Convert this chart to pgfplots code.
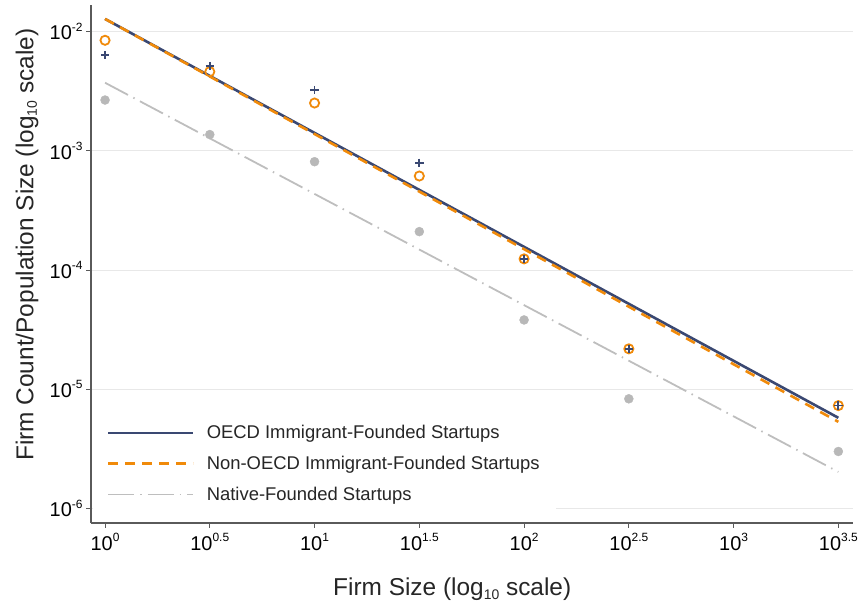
\documentclass[border=0pt]{standalone}
\usepackage{pgfplots}
\pgfplotsset{compat=1.18}
\usepackage{fontspec}
\setmainfont{Liberation Sans}
\definecolor{navyc}{HTML}{3A4872}
\definecolor{orangec}{HTML}{F08A0A}
\definecolor{grayline}{HTML}{BEBEBE}
\definecolor{graydot}{HTML}{B8B8B8}
\definecolor{gridc}{HTML}{E8E8E8}
\definecolor{spine}{HTML}{5A5A5A}
\newcommand{\tp}[1]{10\raisebox{0.42em}{\fontsize{12}{12}\selectfont #1}}
\newcommand{\sbs}[1]{\raisebox{-0.15em}{\fontsize{14}{14}\selectfont #1}}
\begin{document}
\begin{tikzpicture}
\begin{axis}[
  scale only axis, width=762bp, height=518bp,
  xmode=log, ymode=log,
  xmin=0.857, xmax=3715,
  ymin=7.53e-7, ymax=0.01675,
  axis x line*=bottom, axis y line*=left,
  axis line style={spine, line width=1.2bp},
  tick align=outside, major tick length=5bp,
  tick style={spine, line width=1bp},
  minor tick style={draw=none},
  ytick={1e-6,1e-5,1e-4,1e-3,1e-2},
  yticklabels={\tp{-6},\tp{-5},\tp{-4},\tp{-3},\tp{-2}},
  xtick={1,3.16228,10,31.6228,100,316.228,1000,3162.28},
  xticklabels={\tp{0},\tp{0.5},\tp{1},\tp{1.5},\tp{2},\tp{2.5},\tp{3},\tp{3.5}},
  ymajorgrids, grid style={gridc, line width=1bp},
  tick label style={font=\fontsize{20}{24}\selectfont, text=black},
  xticklabel style={yshift=-2bp},
  label style={font=\fontsize{24.5}{29}\selectfont, text=black!85},
  xlabel={Firm Size (log\sbs{10} scale)},
  ylabel={Firm Count/Population Size (log\sbs{10} scale)},
  xlabel style={at={(axis description cs:0.474,-0.1275)}, anchor=center},
  ylabel style={at={(axis description cs:-0.084,0.537)}, anchor=center},
  legend cell align=left,
  legend image code/.code={\draw[#1] (0bp,0bp) -- (85bp,0bp);},
  legend style={at={(axis description cs:0.0026,0.208)}, anchor=north west,
    draw=none, fill=white, font=\fontsize{18.5}{22}\selectfont, text=black!85,
    row sep=12bp, inner xsep=14bp, inner ysep=8bp,
    /tikz/every odd column/.append style={column sep=10bp}},
]
\coordinate (O) at (rel axis cs:0,0);
\addplot[navyc, line width=2.6bp, no marks] coordinates {(1,0.0128) (3162.28,5.75e-6)};
\addlegendentry{OECD Immigrant-Founded Startups}
\addplot[orangec, line width=2.6bp, dash pattern=on 10bp off 7bp, no marks] coordinates {(1,0.0128) (3162.28,5.32e-6)};
\addlegendentry{Non-OECD Immigrant-Founded Startups}
\addplot[grayline, line width=1.8bp, dash pattern=on 26bp off 6bp on 1.5bp off 6bp, no marks] coordinates {(1,3.73e-3) (3162.28,2.02e-6)};
\addlegendentry{Native-Founded Startups}
% scatter points
\addplot[forget plot, only marks, mark=*, mark size=4.5bp, graydot, mark options={draw=none, fill=graydot}] coordinates {
(1,2.67e-3) (3.16228,1.37e-3) (10,8.11e-4) (31.6228,2.10e-4) (100,3.81e-5) (316.228,8.30e-6) (3162.28,3.0e-6)};
\addplot[forget plot, only marks, mark=o, mark size=4.6bp, orangec, mark options={line width=1.8bp}] coordinates {
(1,8.47e-3) (3.16228,4.62e-3) (10,2.52e-3) (31.6228,6.15e-4) (100,1.24e-4) (316.228,2.18e-5) (3162.28,7.28e-6)};
\addplot[forget plot, only marks, mark=+, mark size=4.2bp, navyc, mark options={line width=1.8bp}] coordinates {
(1,6.38e-3) (3.16228,5.15e-3) (10,3.24e-3) (31.6228,7.93e-4) (100,1.24e-4) (316.228,2.18e-5) (3162.28,7.28e-6)};
\end{axis}
\pgfresetboundingbox
\path[use as bounding box] ([shift={(-91bp,-81bp)}]O) rectangle ++(862bp,604bp);
\end{tikzpicture}
\end{document}
